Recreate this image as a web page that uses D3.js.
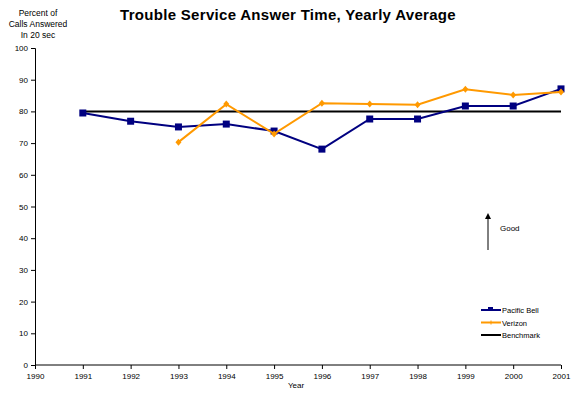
<!DOCTYPE html>
<html>
<head>
<meta charset="utf-8">
<script src="https://cdn.jsdelivr.net/npm/d3@7"></script>
<style>
  body { margin: 0; background: #fff; }
  text { font-family: "Liberation Sans", Arial, sans-serif; }
</style>
</head>
<body>
<div id="chart"></div>
<script>
// data
var years = [1991, 1992, 1993, 1994, 1995, 1996, 1997, 1998, 1999, 2000, 2001];
var pacificBell = [79.5, 76.9, 75.1, 76.0, 73.8, 68.1, 77.6, 77.6, 81.7, 81.7, 87.1];
var verizon = [null, null, 70.3, 82.3, 72.9, 82.6, 82.3, 82.1, 87.0, 85.2, 86.1];
var benchmark = [80, 80, 80, 80, 80, 80, 80, 80, 80, 80, 80];
var yTicks = [0, 10, 20, 30, 40, 50, 60, 70, 80, 90, 100];
var xTicks = [1990, 1991, 1992, 1993, 1994, 1995, 1996, 1997, 1998, 1999, 2000, 2001];

var width = 576, height = 394;
var margin = {top: 48, right: 15, bottom: 29, left: 35};

var svg = d3.select("#chart").append("svg")
    .attr("width", width)
    .attr("height", height);

var x = d3.scaleLinear().domain([1990, 2001]).range([margin.left, width - margin.right]);
var y = d3.scaleLinear().domain([0, 100]).range([height - margin.bottom, margin.top]);

// title
svg.append("text")
    .attr("x", 288).attr("y", 20)
    .attr("text-anchor", "middle")
    .style("font-size", "15px").style("font-weight", "bold")
    .style("letter-spacing", "0.3px")
    .text("Trouble Service Answer Time, Yearly Average");

// y axis label
var ylab = ["Percent of", "Calls Answered", "In 20 sec"];
svg.selectAll(".ylab").data(ylab).enter().append("text")
    .attr("x", 38).attr("y", function(d, i) { return 16 + i * 11; })
    .attr("text-anchor", "middle")
    .style("font-size", "8.5px")
    .text(function(d) { return d; });

// axes
var yAxis = svg.append("g")
    .attr("transform", "translate(" + margin.left + ",0)")
    .call(d3.axisLeft(y).tickValues(yTicks).tickSize(4).tickPadding(3));
var xAxis = svg.append("g")
    .attr("transform", "translate(0," + y(0) + ")")
    .call(d3.axisBottom(x).tickValues(xTicks).tickFormat(d3.format("d")).tickSize(4).tickPadding(4));
[yAxis, xAxis].forEach(function(g) {
    g.selectAll("path, line").attr("stroke", "#000");
    g.selectAll("text").style("font-size", "8px").attr("fill", "#000")
        .style("font-family", "'Liberation Sans', Arial, sans-serif");
});
xAxis.select(".domain").attr("d", "M" + margin.left + ",0H" + (width - margin.right));

svg.append("text")
    .attr("x", 296).attr("y", 388)
    .attr("text-anchor", "middle")
    .style("font-size", "8px")
    .text("Year");

var line = d3.line()
    .defined(function(d) { return d[1] != null; })
    .x(function(d) { return x(d[0]); })
    .y(function(d) { return y(d[1]); });

function pairs(vals) { return years.map(function(yr, i) { return [yr, vals[i]]; }); }

// benchmark
svg.append("path").datum(pairs(benchmark))
    .attr("d", line).attr("fill", "none")
    .attr("stroke", "#000").attr("stroke-width", 2);

// pacific bell
svg.append("path").datum(pairs(pacificBell))
    .attr("d", line).attr("fill", "none")
    .attr("stroke", "#000080").attr("stroke-width", 2);
svg.selectAll(".pb").data(pairs(pacificBell)).enter().append("rect")
    .attr("x", function(d) { return x(d[0]) - 3.5; })
    .attr("y", function(d) { return y(d[1]) - 3.5; })
    .attr("width", 7).attr("height", 7)
    .attr("fill", "#000080");

// verizon
var vz = pairs(verizon).filter(function(d) { return d[1] != null; });
svg.append("path").datum(vz)
    .attr("d", line).attr("fill", "none")
    .attr("stroke", "#ff9900").attr("stroke-width", 2);
svg.selectAll(".vz").data(vz).enter().append("path")
    .attr("transform", function(d) { return "translate(" + x(d[0]) + "," + y(d[1]) + ")"; })
    .attr("d", "M-3,0L0,-3.5L3,0L0,3.5Z")
    .attr("fill", "#ff9900");

// "Good" arrow
svg.append("line")
    .attr("x1", 488).attr("y1", 250).attr("x2", 488).attr("y2", 218)
    .attr("stroke", "#000").attr("stroke-width", 1);
svg.append("path").attr("d", "M485,219L488,213L491,219Z").attr("fill", "#000");
svg.append("text")
    .attr("x", 500).attr("y", 231)
    .style("font-size", "8px")
    .text("Good");

// legend
var legend = [
    {name: "Pacific Bell", color: "#000080", mark: "square"},
    {name: "Verizon", color: "#ff9900", mark: "plus"},
    {name: "Benchmark", color: "#000", mark: "none"}
];
var lg = svg.selectAll(".lg").data(legend).enter().append("g")
    .attr("transform", function(d, i) { return "translate(481," + (310 + i * 12.5) + ")"; });
lg.append("line").attr("x1", 0).attr("x2", 20)
    .attr("stroke", function(d) { return d.color; }).attr("stroke-width", 2);
lg.filter(function(d) { return d.mark == "square"; }).append("rect")
    .attr("x", 7).attr("y", -3).attr("width", 5).attr("height", 3)
    .attr("fill", function(d) { return d.color; });
lg.filter(function(d) { return d.mark == "plus"; }).append("line")
    .attr("x1", 10).attr("x2", 10).attr("y1", -2).attr("y2", 2)
    .attr("stroke", function(d) { return d.color; }).attr("stroke-width", 1);
lg.append("text").attr("x", 21).attr("y", 3)
    .style("font-size", "7.5px")
    .text(function(d) { return d.name; });
</script>
</body>
</html>
